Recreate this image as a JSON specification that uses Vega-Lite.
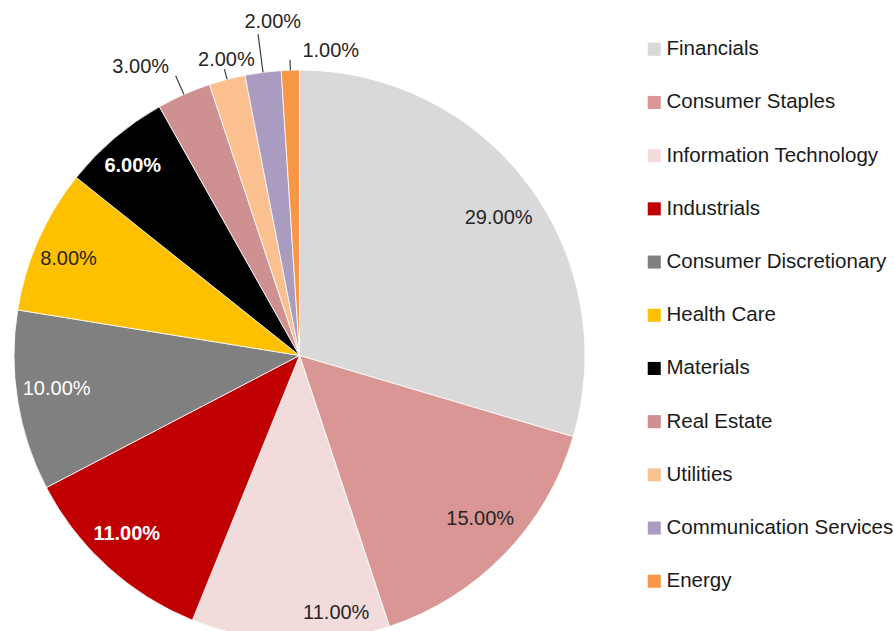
{
  "$schema": "https://vega.github.io/schema/vega-lite/v6.json",
  "width": 894,
  "height": 631,
  "autosize": "none",
  "padding": 0,
  "background": "white",
  "config": {"view": {"stroke": null}, "font": "Liberation Sans"},
  "data": {
    "values": [
      {"sector": "Financials", "share": 0.29, "order": 1},
      {"sector": "Consumer Staples", "share": 0.15, "order": 2},
      {"sector": "Information Technology", "share": 0.11, "order": 3},
      {"sector": "Industrials", "share": 0.11, "order": 4},
      {"sector": "Consumer Discretionary", "share": 0.10, "order": 5},
      {"sector": "Health Care", "share": 0.08, "order": 6},
      {"sector": "Materials", "share": 0.06, "order": 7},
      {"sector": "Real Estate", "share": 0.03, "order": 8},
      {"sector": "Utilities", "share": 0.02, "order": 9},
      {"sector": "Communication Services", "share": 0.02, "order": 10},
      {"sector": "Energy", "share": 0.01, "order": 11}
    ]
  },
  "encoding": {
    "theta": {"field": "share", "type": "quantitative", "stack": true},
    "order": {"field": "order", "type": "quantitative"}
  },
  "layer": [
    {
      "mark": {"type": "arc", "x": 299.5, "y": 355.5, "radius": 285.5, "stroke": "white", "strokeWidth": 0.8},
      "encoding": {
        "color": {
          "field": "sector",
          "type": "nominal",
          "scale": {
            "domain": ["Financials", "Consumer Staples", "Information Technology", "Industrials", "Consumer Discretionary", "Health Care", "Materials", "Real Estate", "Utilities", "Communication Services", "Energy"],
            "range": ["#D9D9D9", "#D99694", "#F2DCDB", "#C00000", "#808080", "#FFC000", "#000000", "#CE9090", "#FAC090", "#AA9CC0", "#F79646"]
          },
          "legend": {
            "title": null,
            "orient": "none",
            "legendX": 644,
            "legendY": 39,
            "symbolType": "square",
            "symbolSize": 170,
            "symbolStrokeWidth": 0,
            "labelFontSize": 20.5,
            "labelFont": "Liberation Sans",
            "labelColor": "#1a1a1a",
            "labelLimit": 300,
            "labelOffset": 2,
            "rowPadding": 32.2,
            "padding": 0
          }
        }
      }
    },
    {
      "mark": {"type": "arc", "x": 299.5, "y": 355.5, "radius": 306, "radius2": 285.5, "padAngle": 1, "fillOpacity": 0, "stroke": "#404040", "strokeWidth": 1.2},
      "encoding": {
        "detail": {"field": "sector"},
        "strokeOpacity": {"condition": {"test": "datum.sector === 'Real Estate'", "value": 1}, "value": 0}
      }
    },
    {
      "mark": {"type": "arc", "x": 299.5, "y": 355.5, "radius": 296, "radius2": 285.5, "padAngle": 1, "fillOpacity": 0, "stroke": "#404040", "strokeWidth": 1.2},
      "encoding": {
        "detail": {"field": "sector"},
        "strokeOpacity": {"condition": {"test": "datum.sector === 'Utilities' || datum.sector === 'Energy'", "value": 1}, "value": 0}
      }
    },
    {
      "mark": {"type": "arc", "x": 299.5, "y": 355.5, "radius": 324, "radius2": 285.5, "padAngle": 1, "fillOpacity": 0, "stroke": "#404040", "strokeWidth": 1.2},
      "encoding": {
        "detail": {"field": "sector"},
        "strokeOpacity": {"condition": {"test": "datum.sector === 'Communication Services'", "value": 1}, "value": 0}
      }
    },
    {
      "mark": {"type": "text", "x": 299.5, "y": 355.5, "radius": 246, "dx": 2, "dy": 10, "fontSize": 20, "fill": "#262626"},
      "encoding": {
        "detail": {"field": "sector"},
        "text": {"condition": {"test": "datum.sector === 'Financials'", "field": "share", "type": "quantitative", "format": ".2%"}, "value": ""}
      }
    },
    {
      "mark": {"type": "text", "x": 299.5, "y": 355.5, "radius": 246, "dx": 4, "dy": -8, "fontSize": 20, "fill": "#262626"},
      "encoding": {
        "detail": {"field": "sector"},
        "text": {"condition": {"test": "datum.sector === 'Consumer Staples'", "field": "share", "type": "quantitative", "format": ".2%"}, "value": ""}
      }
    },
    {
      "mark": {"type": "text", "x": 299.5, "y": 355.5, "radius": 246, "dx": -6, "dy": 3, "fontSize": 20, "fill": "#262626"},
      "encoding": {
        "detail": {"field": "sector"},
        "text": {"condition": {"test": "datum.sector === 'Health Care'", "field": "share", "type": "quantitative", "format": ".2%"}, "value": ""}
      }
    },
    {
      "mark": {"type": "text", "x": 299.5, "y": 355.5, "radius": 246, "dy": -6, "fontSize": 20, "fill": "white"},
      "encoding": {
        "detail": {"field": "sector"},
        "text": {"condition": {"test": "datum.sector === 'Consumer Discretionary'", "field": "share", "type": "quantitative", "format": ".2%"}, "value": ""}
      }
    },
    {
      "mark": {"type": "text", "x": 299.5, "y": 355.5, "radius": 248, "dx": -6, "dy": -5, "fontSize": 20, "fontWeight": "bold", "fill": "white"},
      "encoding": {
        "detail": {"field": "sector"},
        "text": {"condition": {"test": "datum.sector === 'Industrials'", "field": "share", "type": "quantitative", "format": ".2%"}, "value": ""}
      }
    },
    {
      "mark": {"type": "text", "x": 299.5, "y": 355.5, "radius": 248, "dx": -6, "dy": -1, "fontSize": 20, "fontWeight": "bold", "fill": "white"},
      "encoding": {
        "detail": {"field": "sector"},
        "text": {"condition": {"test": "datum.sector === 'Materials'", "field": "share", "type": "quantitative", "format": ".2%"}, "value": ""}
      }
    },
    {
      "mark": {"type": "text", "x": 299.5, "y": 355.5, "radius": 258, "dx": 45, "fontSize": 20, "fill": "#262626"},
      "encoding": {
        "detail": {"field": "sector"},
        "text": {"condition": {"test": "datum.sector === 'Information Technology'", "field": "share", "type": "quantitative", "format": ".2%"}, "value": ""}
      }
    },
    {
      "mark": {"type": "text", "x": 299.5, "y": 355.5, "radius": 328, "dx": -26, "dy": 11, "fontSize": 20, "fill": "#262626"},
      "encoding": {
        "detail": {"field": "sector"},
        "text": {"condition": {"test": "datum.sector === 'Real Estate'", "field": "share", "type": "quantitative", "format": ".2%"}, "value": ""}
      }
    },
    {
      "mark": {"type": "text", "x": 299.5, "y": 355.5, "radius": 304, "dx": 4, "dy": -1, "fontSize": 20, "fill": "#262626"},
      "encoding": {
        "detail": {"field": "sector"},
        "text": {"condition": {"test": "datum.sector === 'Utilities'", "field": "share", "type": "quantitative", "format": ".2%"}, "value": ""}
      }
    },
    {
      "mark": {"type": "text", "x": 299.5, "y": 355.5, "radius": 334, "dx": 16, "dy": -2, "fontSize": 20, "fill": "#262626"},
      "encoding": {
        "detail": {"field": "sector"},
        "text": {"condition": {"test": "datum.sector === 'Communication Services'", "field": "share", "type": "quantitative", "format": ".2%"}, "value": ""}
      }
    },
    {
      "mark": {"type": "text", "x": 299.5, "y": 355.5, "radius": 304, "dx": 41, "dy": -1, "fontSize": 20, "fill": "#262626"},
      "encoding": {
        "detail": {"field": "sector"},
        "text": {"condition": {"test": "datum.sector === 'Energy'", "field": "share", "type": "quantitative", "format": ".2%"}, "value": ""}
      }
    }
  ]
}
